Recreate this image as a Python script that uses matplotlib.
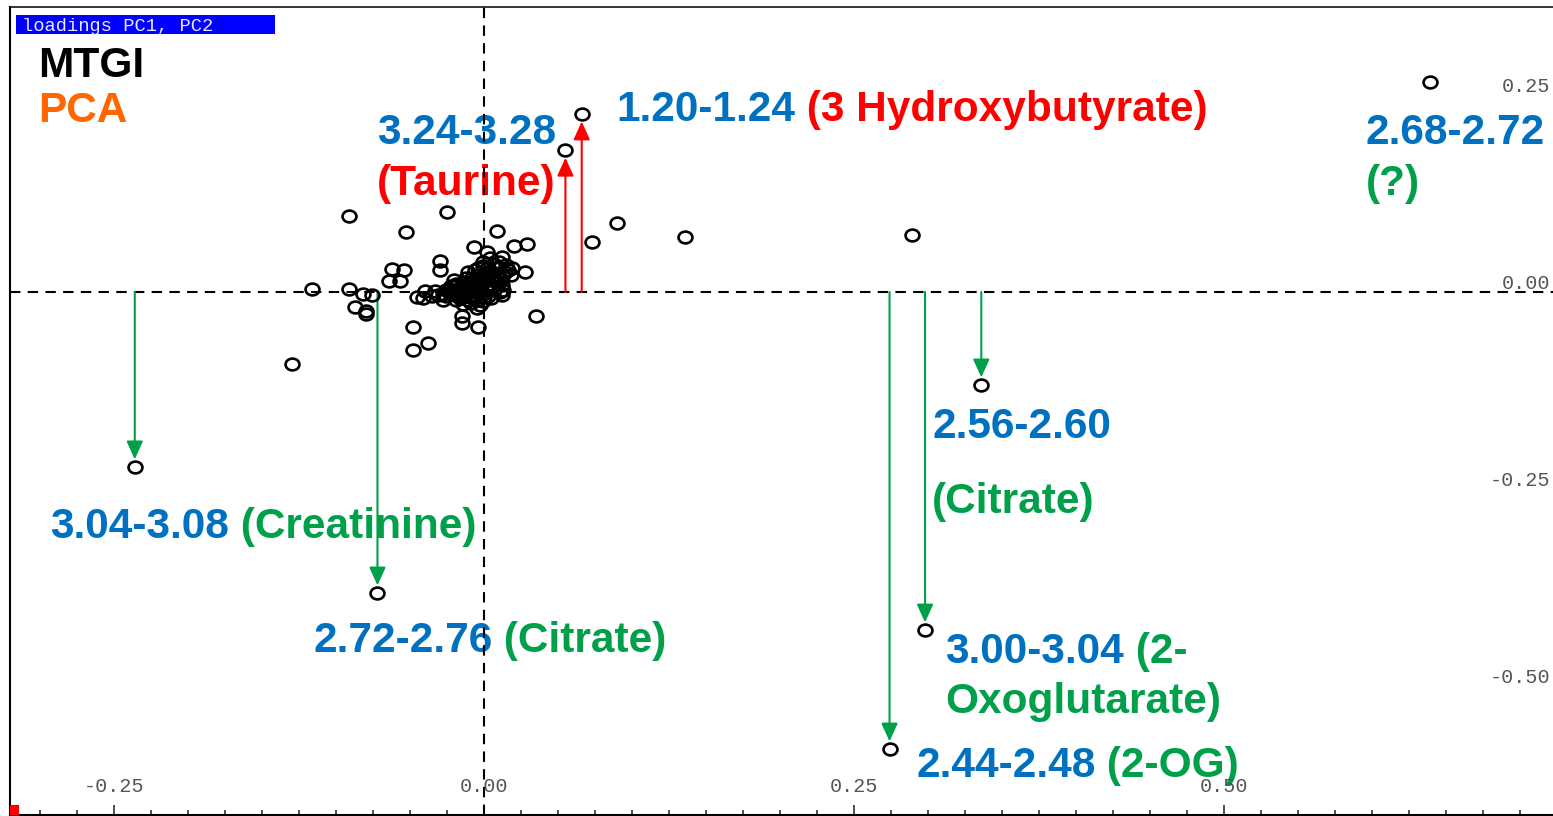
import matplotlib
matplotlib.use("Agg")
import matplotlib.pyplot as plt
import matplotlib.transforms as mtransforms
from matplotlib.path import Path
from matplotlib.patches import Rectangle
from matplotlib.ticker import MultipleLocator, FixedLocator

BLUE = "#0070c0"
GREEN = "#00a04a"
RED = "#ff0000"
ORANGE = "#ff6600"

# ── PCA loadings (PC1, PC2) of the unlabelled bins ───────────────────────────
pc1 = [
    0.639, 0.090, 0.073, 0.136, 0.289, -0.130, 0.035,
    -0.091, -0.025, -0.053, 0.009, 0.029, 0.020, -0.007, 0.002,
    -0.030, -0.030, 0.028, -0.062, -0.054, -0.064, -0.057,
    -0.116, -0.091, -0.082, -0.076, -0.087, -0.080, -0.080,
    -0.045, -0.040, -0.048, -0.038, -0.048, -0.015, -0.015, -0.004,
    0.012, -0.001, 0.012, -0.041, -0.028, -0.014, -0.005,
    -0.026, -0.023, -0.020, -0.018, -0.015, -0.012, -0.010, -0.011,
    -0.007, -0.005, -0.003, 0.000, -0.001, 0.001, 0.004, 0.005,
    0.007, 0.008, 0.011, 0.012, 0.014, 0.010, 0.003, -0.004,
    -0.008, -0.013, -0.018, -0.022, -0.026, -0.031, -0.035, -0.010,
    -0.004, 0.003, 0.007, 0.015, 0.018, 0.011, -0.019, -0.014,
    -0.006, -0.001, 0.004, -0.011, -0.016, 0.001, 0.005, -0.003,
    0.010, -0.020, -0.012,
    -0.024, -0.021, -0.017, -0.014, -0.009, -0.006, -0.002, 0.002,
    0.006, 0.009, 0.013, 0.016, 0.003, -0.002, -0.007, -0.012,
    -0.016, -0.008, -0.001, 0.006, 0.010, 0.019, 0.007, -0.004,
    -0.028, -0.033, 0.000, -0.019, 0.013, -0.009,
]
pc2 = [
    0.266, 0.088, 0.063, 0.070, 0.072, -0.091, -0.030,
    0.096, 0.101, 0.076, 0.077, 0.061, 0.058, 0.057, 0.051,
    0.039, 0.028, 0.025, 0.029, 0.028, 0.014, 0.014,
    0.004, 0.004, -0.003, -0.004, -0.019, -0.024, -0.028,
    -0.006, 0.001, -0.044, -0.065, -0.074, -0.030, -0.039, -0.044,
    -0.004, 0.038, 0.044, -0.008, -0.010, -0.006, -0.020,
    -0.005, 0.000, 0.003, -0.005, 0.005, -0.001, 0.008, -0.010,
    0.003, 0.013, 0.006, 0.015, -0.003, 0.020, 0.010, 0.025,
    0.003, 0.031, 0.018, 0.009, 0.025, 0.038, 0.031, 0.022,
    0.018, 0.013, 0.009, 0.008, 0.003, -0.004, -0.005, -0.005,
    -0.010, -0.005, 0.015, 0.034, 0.022, 0.000, -0.010, -0.015,
    0.028, 0.033, 0.043, 0.025, 0.000, 0.003, -0.008, -0.017,
    0.013, 0.015, 0.018,
    0.004, -0.003, 0.001, 0.009, 0.003, 0.009, 0.012, 0.006,
    0.020, 0.014, 0.021, 0.028, 0.024, 0.019, 0.015, 0.004,
    -0.008, -0.007, -0.012, 0.007, 0.030, 0.031, 0.036, 0.030,
    -0.003, 0.001, -0.006, 0.010, 0.002, -0.014,
]

# bins pointed at with an arrow from the PC2 = 0 line
arrow_pc1 = [-0.236, -0.072, 0.274, 0.298, 0.336, 0.055, 0.066]
arrow_pc2 = [-0.222, -0.382, -0.580, -0.429, -0.118, 0.180, 0.226]
arrow_color = [GREEN, GREEN, GREEN, GREEN, GREEN, RED, RED]

# bin labels: anchor (baseline, left) and coloured pieces on one line
labels = [
    ((-0.0723, 0.1878), [("3.24-3.28", BLUE)]),
    ((-0.0723, 0.1231), [("(Taurine)", RED)]),
    ((0.0892, 0.2170), [("1.20-1.24", BLUE), (" (3 Hydroxybutyrate)", RED)]),
    ((0.5959, 0.1878), [("2.68-2.72", BLUE)]),
    ((0.5959, 0.1231), [("(?)", GREEN)]),
    ((0.3027, -0.1853), [("2.56-2.60", BLUE)]),
    ((0.3027, -0.2805), [("(Citrate)", GREEN)]),
    ((-0.2932, -0.3122), [("3.04-3.08", BLUE), (" (Creatinine)", GREEN)]),
    ((-0.1155, -0.4569), [("2.72-2.76", BLUE), (" (Citrate)", GREEN)]),
    ((0.3115, -0.4708), [("3.00-3.04", BLUE), (" (2-", GREEN)]),
    ((0.3115, -0.5343), [("Oxoglutarate)", GREEN)]),
    ((0.2919, -0.6155), [("2.44-2.48", BLUE), (" (2-OG)", GREEN)]),
]

x_ticks = [-0.25, 0.00, 0.25, 0.50]
x_tick_labels = ["-0.25", "0.00", "0.25", "0.50"]
y_ticks = [0.25, 0.00, -0.25, -0.50]
y_tick_labels = ["0.25", "0.00", "-0.25", "-0.50"]

fig = plt.figure(figsize=(15.53, 8.16), dpi=100)
ax = fig.add_axes([10 / 1553, 1 / 816, 1543 / 1553, 808 / 816])
ax.set_xlim(-0.3203, 0.7223)
ax.set_ylim(-0.6637, 0.3617)

# frame: left / top / bottom only
for side in ("left", "top", "bottom"):
    ax.spines[side].set_linewidth(1.5)
    ax.spines[side].set_color("black")
ax.spines["right"].set_visible(False)
ax.spines["top"].set_linewidth(1.1)

ax.xaxis.set_major_locator(FixedLocator(x_ticks))
ax.xaxis.set_minor_locator(MultipleLocator(0.025))
ax.tick_params(axis="x", which="major", direction="in", length=7.5, width=1.2,
               color="#333333", labelbottom=False)
ax.tick_params(axis="x", which="minor", direction="in", length=3.5, width=1.2,
               color="#333333")
ax.tick_params(axis="y", left=False, labelleft=False)

# tick labels sit inside the frame
mono = dict(family="Liberation Mono", fontsize=14.5, color="#555555")
xtrans = mtransforms.blended_transform_factory(ax.transData, ax.transAxes)
for v, s in zip(x_ticks, x_tick_labels):
    ax.text(v, 0.0285, s, ha="center", va="baseline", transform=xtrans, **mono)
ytrans = mtransforms.blended_transform_factory(ax.transAxes, ax.transData)
for v, s in zip(y_ticks, y_tick_labels):
    ax.text(0.998, v + 0.004, s, ha="right", va="baseline", transform=ytrans, **mono)

# zero lines
ax.axhline(0, color="black", lw=1.5, linestyle=(0, (5, 3.5)), zorder=2)
ax.axvline(0, color="black", lw=1.5, linestyle=(0, (5, 3.5)), zorder=2)

# arrows from PC2 = 0 to the marked bins
for x, y, c in zip(arrow_pc1, arrow_pc2, arrow_color):
    ax.annotate("", xy=(x, y), xytext=(x, 0),
                arrowprops=dict(arrowstyle="-|>,head_length=0.55,head_width=0.25",
                                mutation_scale=20, color=c, lw=1.5,
                                shrinkA=0, shrinkB=5.5),
                zorder=3)

# open, slightly flattened circles
circle = Path.unit_circle()
ellipse = Path(circle.vertices * [1.0, 0.85], circle.codes)
ax.plot(pc1 + arrow_pc1, pc2 + arrow_pc2, linestyle="none", marker=ellipse,
        ms=10, mfc="none", mec="black", mew=1.9, zorder=4)

# bin labels, pieces chained left to right
bold = dict(family="Liberation Sans", fontweight="bold", fontsize=30.5, zorder=1)
for (x, y), parts in labels:
    prev = None
    for s, c in parts:
        if prev is None:
            prev = ax.text(x, y, s, color=c, ha="left", va="baseline", **bold)
        else:
            prev = ax.annotate(s, xy=(1, 0), xycoords=prev, ha="left",
                               va="bottom", color=c, **bold)

ax.text(-0.3014, 0.2728, "MTGI", color="black", ha="left", va="baseline", **bold)
ax.text(-0.3014, 0.2157, "PCA", color=ORANGE, ha="left", va="baseline", **bold)

# window caption
ax.add_patch(Rectangle((0.0039, 0.9666), 0.1678, 0.0235, transform=ax.transAxes,
                       facecolor="#0000ff", edgecolor="none", zorder=5))
ax.text(0.0078, 0.9703, "loadings PC1, PC2", transform=ax.transAxes,
        family="Liberation Mono", fontsize=13.5, color="#e8e8ff",
        ha="left", va="baseline", zorder=6)

# little red corner marker
ax.add_patch(Rectangle((0, 0), 9 / 1543, 10 / 808, transform=ax.transAxes,
                       facecolor="red", edgecolor="none", clip_on=False, zorder=6))

fig.savefig("out.png", dpi=100)
